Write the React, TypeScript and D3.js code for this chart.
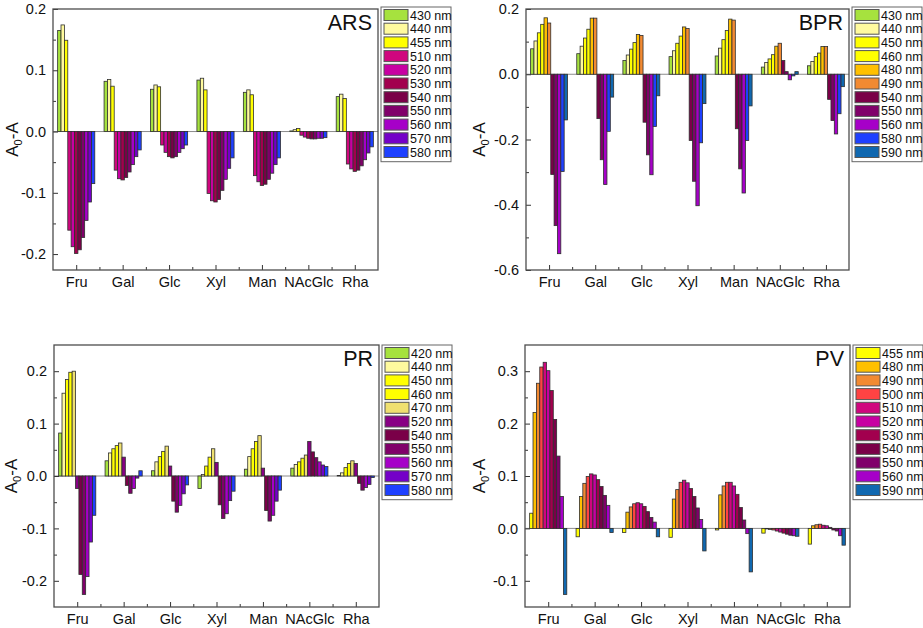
import { useRef, useEffect } from 'react';
import * as d3 from 'd3';

const FONT = 'Arial, "Liberation Sans", sans-serif';

const categories = ['Fru', 'Gal', 'Glc', 'Xyl', 'Man', 'NAcGlc', 'Rha'];

// palette used by the legends
const GREEN = '#a6e23e';
const PALE = '#fffa9e';
const YELLOW = '#ffff00';
const KHAKI = '#efe070';
const AMBER = '#ffc000';
const ORANGE = '#f28a32';
const RED = '#ff4343';
const PINK = '#d0067e';
const MAGENTA = '#c800a2';
const CRIMSON = '#a2004e';
const WINE = '#7a0048';
const PLUM = '#80006a';
const PURPLE = '#880084';
const VIOLET = '#a600c8';
const INDIGO = '#7400c8';
const BLUE = '#1e40ff';
const STEEL = '#1068b0';

// ARS — rows are wavelengths, columns follow categories
const arsWavelengths = ['430 nm', '440 nm', '455 nm', '510 nm', '520 nm', '530 nm', '540 nm', '550 nm', '560 nm', '570 nm', '580 nm'];
const arsColors = [GREEN, PALE, YELLOW, PINK, MAGENTA, CRIMSON, WINE, PLUM, VIOLET, INDIGO, BLUE];
const arsValues = [
  [0.165, 0.082, 0.069, 0.084, 0.064, 0.001, 0.057],
  [0.174, 0.085, 0.076, 0.087, 0.068, 0.003, 0.061],
  [0.149, 0.074, 0.073, 0.068, 0.06, 0.005, 0.054],
  [-0.161, -0.063, -0.022, -0.101, -0.072, -0.006, -0.053],
  [-0.188, -0.077, -0.034, -0.113, -0.082, -0.009, -0.061],
  [-0.199, -0.079, -0.041, -0.115, -0.088, -0.011, -0.065],
  [-0.193, -0.075, -0.043, -0.111, -0.086, -0.012, -0.063],
  [-0.173, -0.066, -0.041, -0.096, -0.078, -0.012, -0.056],
  [-0.145, -0.054, -0.034, -0.078, -0.068, -0.011, -0.046],
  [-0.115, -0.041, -0.028, -0.06, -0.054, -0.011, -0.035],
  [-0.085, -0.03, -0.022, -0.043, -0.043, -0.01, -0.025],
];

// BPR
const bprWavelengths = ['430 nm', '440 nm', '450 nm', '460 nm', '480 nm', '490 nm', '540 nm', '550 nm', '560 nm', '580 nm', '590 nm'];
const bprColors = [GREEN, PALE, YELLOW, YELLOW, AMBER, ORANGE, WINE, PLUM, VIOLET, BLUE, STEEL];
const bprValues = [
  [0.078, 0.063, 0.042, 0.054, 0.056, 0.022, 0.026],
  [0.102, 0.086, 0.059, 0.072, 0.08, 0.036, 0.039],
  [0.127, 0.111, 0.077, 0.095, 0.106, 0.047, 0.054],
  [0.153, 0.138, 0.097, 0.117, 0.134, 0.06, 0.065],
  [0.173, 0.172, 0.122, 0.145, 0.169, 0.086, 0.085],
  [0.157, 0.172, 0.119, 0.14, 0.166, 0.095, 0.085],
  [-0.307, -0.136, -0.147, -0.203, -0.167, 0.042, -0.077],
  [-0.464, -0.262, -0.247, -0.328, -0.29, 0.008, -0.142],
  [-0.55, -0.338, -0.308, -0.403, -0.364, -0.017, -0.183],
  [-0.298, -0.175, -0.16, -0.21, -0.203, -0.005, -0.121],
  [-0.14, -0.07, -0.066, -0.09, -0.097, 0.008, -0.038],
];

// PR
const prWavelengths = ['420 nm', '440 nm', '450 nm', '460 nm', '470 nm', '520 nm', '540 nm', '550 nm', '560 nm', '570 nm', '580 nm'];
const prColors = [GREEN, PALE, YELLOW, YELLOW, KHAKI, PURPLE, WINE, PLUM, VIOLET, INDIGO, BLUE];
const prValues = [
  [0.082, 0.029, 0.01, -0.024, 0.013, 0.015, 0.001],
  [0.158, 0.044, 0.027, 0.003, 0.037, 0.022, 0.006],
  [0.184, 0.052, 0.037, 0.019, 0.052, 0.027, 0.016],
  [0.198, 0.058, 0.047, 0.036, 0.066, 0.034, 0.024],
  [0.2, 0.063, 0.057, 0.052, 0.077, 0.04, 0.029],
  [-0.024, 0.036, 0.019, 0.026, 0.015, 0.066, 0.024],
  [-0.188, -0.018, -0.048, -0.055, -0.066, 0.046, -0.014],
  [-0.226, -0.033, -0.069, -0.081, -0.086, 0.035, -0.027],
  [-0.192, -0.024, -0.056, -0.072, -0.075, 0.027, -0.022],
  [-0.126, -0.004, -0.034, -0.047, -0.048, 0.021, -0.016],
  [-0.075, 0.01, -0.017, -0.029, -0.027, 0.018, -0.003],
];

// PV
const pvWavelengths = ['455 nm', '480 nm', '490 nm', '500 nm', '510 nm', '520 nm', '530 nm', '540 nm', '550 nm', '560 nm', '590 nm'];
const pvColors = [YELLOW, AMBER, ORANGE, RED, PINK, MAGENTA, CRIMSON, WINE, PLUM, VIOLET, STEEL];
const pvValues = [
  [0.029, -0.016, -0.008, -0.017, -0.003, -0.009, -0.03],
  [0.221, 0.061, 0.031, 0.056, 0.064, -0.001, 0.005],
  [0.277, 0.086, 0.041, 0.074, 0.081, -0.002, 0.007],
  [0.308, 0.099, 0.047, 0.088, 0.088, -0.003, 0.008],
  [0.317, 0.104, 0.049, 0.092, 0.088, -0.005, 0.006],
  [0.301, 0.102, 0.047, 0.087, 0.081, -0.007, 0.005],
  [0.263, 0.093, 0.042, 0.076, 0.065, -0.009, 0.002],
  [0.208, 0.08, 0.032, 0.061, 0.04, -0.011, -0.003],
  [0.138, 0.063, 0.021, 0.039, 0.016, -0.013, -0.005],
  [0.061, 0.044, 0.012, 0.017, -0.01, -0.014, -0.014],
  [-0.126, -0.008, -0.016, -0.043, -0.083, -0.015, -0.032],
];

interface Panel {
  title: string;
  series: string[];
  colors: string[];
  values: number[][];
  yDomain: [number, number];
  yMajor: number[];
  yMinor: number[];
  left: number;
  right: number;
  top: number;
  bottom: number;
  legendTop: number;
  titleX: number;
}

const panels: Panel[] = [
  {
    title: 'ARS', series: arsWavelengths, colors: arsColors, values: arsValues,
    yDomain: [-0.226, 0.2],
    yMajor: [-0.2, -0.1, 0, 0.1, 0.2],
    yMinor: [-0.15, -0.05, 0.05, 0.15],
    left: 53, right: 378, top: 9, bottom: 270, legendTop: 7, titleX: 18,
  },
  {
    title: 'BPR', series: bprWavelengths, colors: bprColors, values: bprValues,
    yDomain: [-0.6, 0.2],
    yMajor: [-0.6, -0.4, -0.2, 0, 0.2],
    yMinor: [-0.5, -0.3, -0.1, 0.1],
    left: 526, right: 849, top: 9, bottom: 270, legendTop: 7, titleX: 485,
  },
  {
    title: 'PR', series: prWavelengths, colors: prColors, values: prValues,
    yDomain: [-0.25, 0.25],
    yMajor: [-0.2, -0.1, 0, 0.1, 0.2],
    yMinor: [-0.15, -0.05, 0.05, 0.15],
    left: 54, right: 379, top: 345, bottom: 607, legendTop: 345, titleX: 17,
  },
  {
    title: 'PV', series: pvWavelengths, colors: pvColors, values: pvValues,
    yDomain: [-0.15, 0.35],
    yMajor: [-0.1, 0, 0.1, 0.2, 0.3],
    yMinor: [-0.05, 0.05, 0.15, 0.25],
    left: 525, right: 850, top: 345, bottom: 607, legendTop: 345, titleX: 485,
  },
];

const drawPanel = (svg: d3.Selection<SVGSVGElement, unknown, null, undefined>, p: Panel) => {
  const x = d3.scaleLinear().domain([0.5, 7.5]).range([p.left, p.right]);
  const y = d3.scaleLinear().domain(p.yDomain).range([p.bottom, p.top]);
  const g = svg.append('g').attr('font-family', FONT);

  g.append('line')
    .attr('x1', p.left).attr('x2', p.right)
    .attr('y1', y(0)).attr('y2', y(0))
    .attr('stroke', '#8c8c8c').attr('stroke-width', 1);

  const step = x(2) - x(1);
  const inner = d3
    .scaleBand<number>()
    .domain(d3.range(p.series.length))
    .range([-0.4 * step, 0.4 * step]);

  categories.forEach((_, ci) => {
    g.append('g')
      .selectAll('rect')
      .data(p.values)
      .join('rect')
      .attr('x', (_, si) => x(ci + 1) + inner(si)!)
      .attr('width', inner.bandwidth())
      .attr('y', (row) => y(Math.max(0, row[ci])))
      .attr('height', (row) => Math.abs(y(row[ci]) - y(0)))
      .attr('fill', (_, si) => p.colors[si])
      .attr('stroke', '#2e2e2e')
      .attr('stroke-width', 0.8);
  });

  // y axis, ticks pointing inward
  g.append('g')
    .attr('transform', `translate(${p.left},0)`)
    .call(d3.axisLeft(y).tickValues(p.yMajor).tickSize(-5).tickPadding(7).tickFormat((d) => (+d).toFixed(1)))
    .call((a) => a.select('.domain').remove())
    .attr('font-size', 14.5).attr('font-family', FONT).attr('color', '#333')
    .call((a) => a.selectAll('text').attr('fill', '#111'));

  g.append('g')
    .attr('transform', `translate(${p.left},0)`)
    .call(d3.axisLeft(y).tickValues(p.yMinor).tickSize(-3).tickFormat(() => ''))
    .call((a) => a.select('.domain').remove())
    .attr('color', '#333');

  // x axis
  g.append('g')
    .attr('transform', `translate(0,${p.bottom})`)
    .call(d3.axisBottom(x).tickValues(d3.range(1, 8)).tickSize(-5).tickPadding(6.5).tickFormat((d) => categories[+d - 1]))
    .call((a) => a.select('.domain').remove())
    .attr('font-size', 14.5).attr('font-family', FONT).attr('color', '#333')
    .call((a) => a.selectAll('text').attr('fill', '#111'));

  g.append('g')
    .attr('transform', `translate(0,${p.bottom})`)
    .call(d3.axisBottom(x).tickValues(d3.range(1.5, 7, 1)).tickSize(-3).tickFormat(() => ''))
    .call((a) => a.select('.domain').remove())
    .attr('color', '#333');

  g.append('rect')
    .attr('x', p.left).attr('y', p.top)
    .attr('width', p.right - p.left).attr('height', p.bottom - p.top)
    .attr('fill', 'none').attr('stroke', '#4d4d4d').attr('stroke-width', 1.3);

  g.append('text')
    .attr('x', p.right - 6).attr('y', p.top + 21)
    .attr('text-anchor', 'end').attr('font-size', 21.5).attr('fill', '#111')
    .text(p.title);

  const yt = g.append('text')
    .attr('transform', `translate(${p.titleX},${(p.top + p.bottom) / 2}) rotate(-90)`)
    .attr('text-anchor', 'middle').attr('font-size', 17).attr('fill', '#111');
  yt.append('tspan').text('A');
  yt.append('tspan').attr('font-size', 11).attr('dy', 4).text('0');
  yt.append('tspan').attr('dy', -4).text('-A');

  // legend
  const rowH = 13.7;
  const lx = p.right + 3;
  const legend = g.append('g');
  legend.append('rect')
    .attr('x', lx).attr('y', p.legendTop)
    .attr('width', 70).attr('height', p.series.length * rowH + 4)
    .attr('fill', '#fff').attr('stroke', '#666').attr('stroke-width', 1);

  const rows = legend.selectAll('g.row')
    .data(p.series)
    .join('g')
    .attr('transform', (_, i) => `translate(${lx},${p.legendTop + 2 + i * rowH})`);
  rows.append('rect')
    .attr('x', 3).attr('y', 0.5).attr('width', 24).attr('height', 11)
    .attr('fill', (_, i) => p.colors[i]).attr('stroke', '#555').attr('stroke-width', 1);
  rows.append('text')
    .attr('x', 29).attr('y', 10.5)
    .attr('font-size', 12.5).attr('fill', '#111')
    .text((d) => d);
};

const App = () => {
  const svgRef = useRef<SVGSVGElement>(null);

  useEffect(() => {
    if (!svgRef.current) return;
    const svg = d3.select(svgRef.current);
    svg.selectAll('*').remove();
    panels.forEach((p) => drawPanel(svg, p));
  }, []);

  return (
    <svg
      ref={svgRef}
      width={923}
      height={628}
      style={{ position: 'absolute', left: 0, top: 0, background: '#fff' }}
    ></svg>
  );
};

export default App;
